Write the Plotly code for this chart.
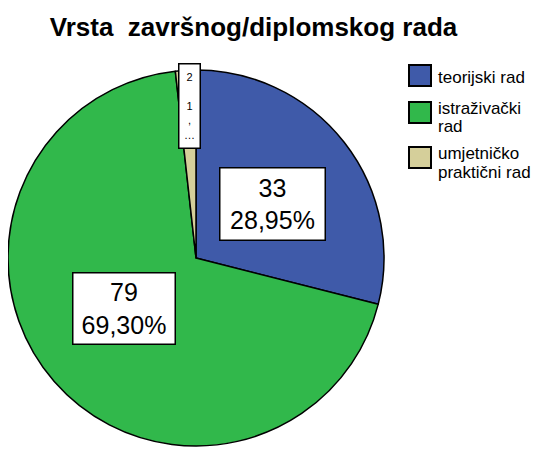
import plotly.graph_objects as go

# ---- data ----
categories = ["teorijski rad", "istraživački rad", "umjetničko praktični rad"]
legend_lines = [["teorijski rad"], ["istraživački", "rad"], ["umjetničko", "praktični rad"]]
counts = [33, 79, 2]
colors = ["#3F5AA9", "#31B84B", "#D5CF9A"]
title_text = "Vrsta  završnog/diplomskog rada"

# the page body has an 8px margin; size the figure to fit the window
OFF = 8
W, H = 540 - OFF, 455 - OFF
total = sum(counts)
pcts = [c / total * 100 for c in counts]

def fmt_pct(p):
    return f"{p:.2f}%".replace(".", ",")

def px(x):
    return (x - OFF) / W

def py(y):
    return 1 - (y - OFF) / H

# pie geometry (window pixels)
cx, cy, r = 196, 258, 188

fig = go.Figure(go.Pie(
    labels=categories,
    values=counts,
    marker=dict(colors=colors, line=dict(color="black", width=1.5)),
    sort=False,
    direction="clockwise",
    rotation=0,
    textinfo="none",
    hoverinfo="label+value+percent",
    showlegend=False,
    domain=dict(x=[max(0, px(cx - r)), px(cx + r)],
                y=[py(cy + r), py(cy - r)]),
))

annotations = []
# slice label boxes
label_boxes = [
    dict(x=272, y=204, w=104, h=71, size=25),
    dict(x=124, y=308, w=101, h=70, size=25),
    dict(x=189.5, y=106, w=20, h=83, size=11),
]
for i, (c, p, b) in enumerate(zip(counts, pcts, label_boxes)):
    if i < 2:
        txt = f"{c}<br>{fmt_pct(p)}"
    else:
        txt = f"{c}<br><br>{fmt_pct(p)[0]}<br>,<br>…"
    annotations.append(dict(
        x=px(b["x"]), y=py(b["y"]), xref="paper", yref="paper",
        text=txt, showarrow=False, xanchor="center", yanchor="middle",
        font=dict(family="Arial, Liberation Sans", size=b["size"], color="black"),
        bgcolor="white", bordercolor="black", borderwidth=1.5, borderpad=0,
        width=b["w"], height=b["h"], align="center", valign="middle",
    ))

# custom legend
shapes = []
sq_tops = [65, 102, 147]
line_ys = [[77], [108, 126], [153, 172]]
for col, lines, top, ys in zip(colors, legend_lines, sq_tops, line_ys):
    shapes.append(dict(type="rect", xref="paper", yref="paper",
                       x0=px(409), x1=px(431), y0=py(top + 21), y1=py(top),
                       fillcolor=col, line=dict(color="black", width=2)))
    for t, yy in zip(lines, ys):
        annotations.append(dict(
            x=px(436), y=py(yy), xref="paper", yref="paper", text=t,
            showarrow=False, xanchor="left", yanchor="middle",
            font=dict(family="Arial, Liberation Sans", size=17, color="black"),
        ))

fig.update_layout(
    width=W, height=H,
    margin=dict(l=0, r=0, t=0, b=0),
    paper_bgcolor="white", plot_bgcolor="white",
    title=dict(text=f"<b>{title_text}</b>", x=px(253.5), xanchor="center",
               y=py(27), yanchor="middle", xref="paper",
               font=dict(family="Arial, Liberation Sans", size=26, color="black")),
    annotations=annotations,
    shapes=shapes,
)

fig.write_html("out.html")
